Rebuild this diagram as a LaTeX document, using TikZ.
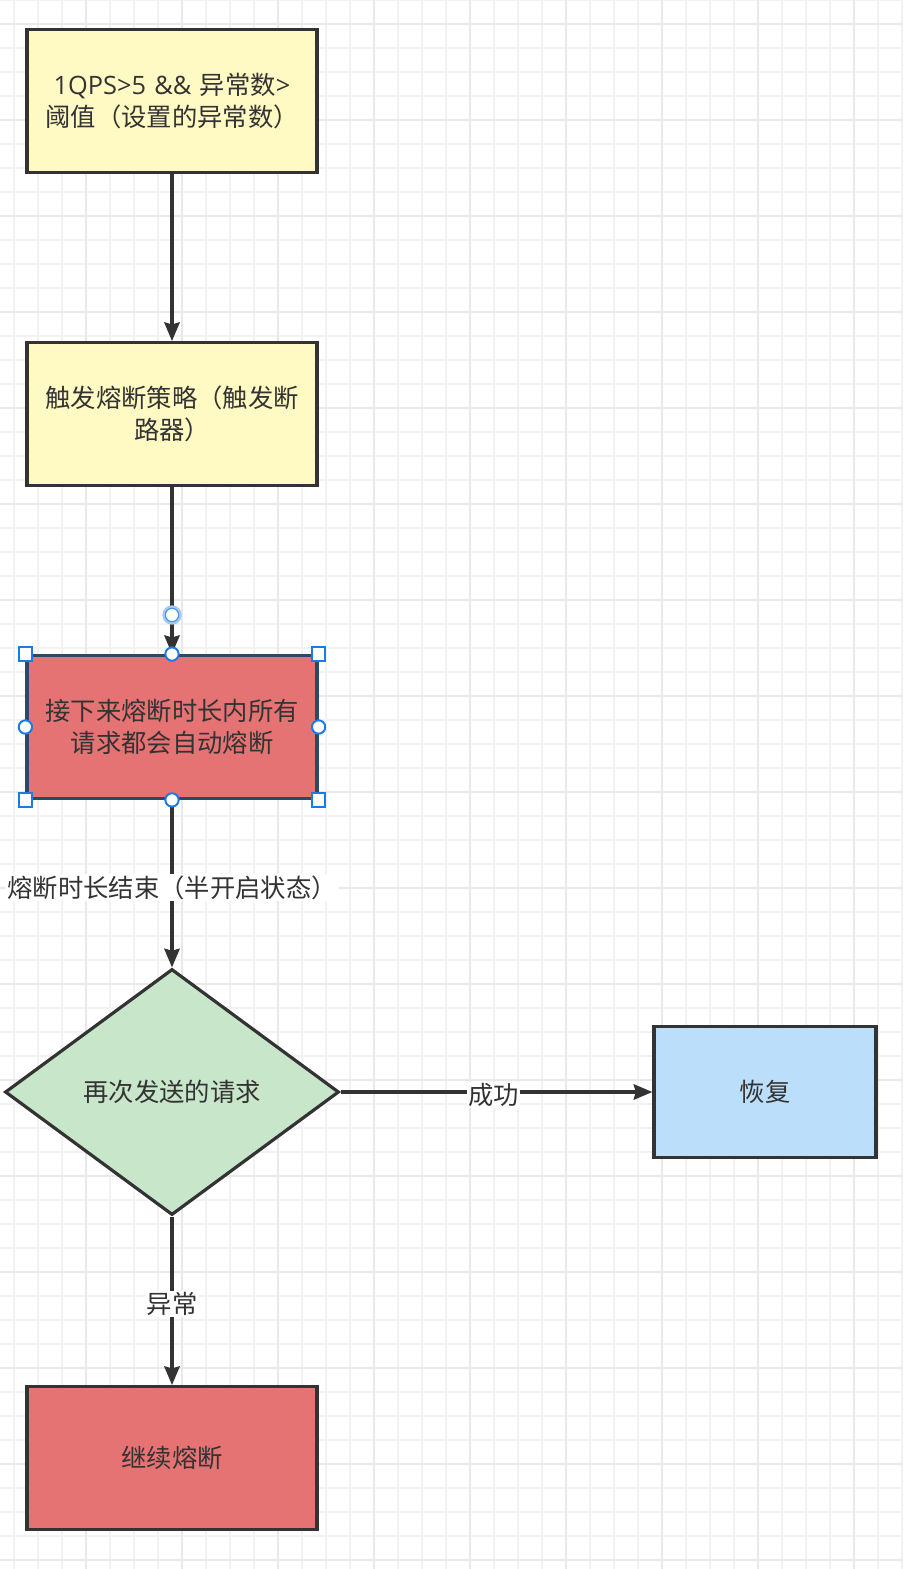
\documentclass[tikz,border=0pt]{standalone}
\usepackage{fontspec}
\setmainfont{Noto Sans CJK SC}
\newfontfamily\lat{Open Sans}
\usetikzlibrary{arrows.meta,shapes.geometric}
\definecolor{ink}{HTML}{333333}
\definecolor{yel}{HTML}{FFF9C4}
\definecolor{redf}{HTML}{E57373}
\definecolor{grnf}{HTML}{C8E6C9}
\definecolor{bluf}{HTML}{BBDEFB}
\definecolor{gridmin}{HTML}{F2F2F2}
\definecolor{gridmaj}{HTML}{E8E8E8}
\definecolor{sel}{HTML}{1A7BE6}
\tikzset{
  box/.style={draw=ink, line width=2.4pt, rectangle, minimum width=217.5pt, minimum height=107pt,
    text=ink, font=\fontsize{19pt}{24pt}\selectfont, align=center, text width=200pt, inner sep=0pt},
  dia/.style={draw=ink, line width=2.4pt, diamond, fill=grnf, minimum width=250.5pt, minimum height=184.5pt,
    aspect=1.358, inner sep=0pt, text=ink, font=\fontsize{19pt}{24pt}\selectfont},
  conn/.style={draw=ink, line width=2.4pt, -{Stealth[length=14pt,width=11.5pt,inset=1.5pt]}},
  lab/.style={fill=white, text=ink, font=\fontsize{19pt}{24pt}\selectfont, inner sep=1pt},
  handsq/.style={draw=sel, fill=white, line width=1.5pt, rectangle, minimum size=10pt, inner sep=0pt},
  handci/.style={draw=sel, fill=white, line width=1.5pt, circle, minimum size=10pt, inner sep=0pt},
}
\begin{document}
\begin{tikzpicture}[x=0.75pt,y=-0.75pt]
\useasboundingbox (0,0) rectangle (903,1569);
\fill[white] (0,0) rectangle (903,1569);
% grid
\foreach \i in {0,...,37} {
  \pgfmathsetmacro{\xx}{14+24*\i}
  \draw[gridmin, line width=1.5pt] (\xx,0) -- (\xx,1569);
}
\foreach \j in {0,...,65} {
  \pgfmathsetmacro{\yy}{24*\j}
  \draw[gridmin, line width=1.5pt] (0,\yy) -- (903,\yy);
}
\foreach \i in {0,...,9} {
  \pgfmathsetmacro{\xx}{86+96*\i}
  \draw[gridmaj, line width=1.5pt] (\xx,0) -- (\xx,1569);
}
\foreach \j in {0,...,16} {
  \pgfmathsetmacro{\yy}{24+96*\j}
  \draw[gridmaj, line width=1.5pt] (0,\yy) -- (903,\yy);
}
% nodes
\node[box, fill=yel, text width=215pt] (a) at (172,101) {{\lat 1QPS>5 \&\& }异常数{\lat >}\\阈值（设置的异常数）};
\node[box, fill=yel] (b) at (172,414) {触发熔断策略（触发断\\路器）};
\node[box, fill=redf, draw=ink!70!sel] (c) at (172,727) {接下来熔断时长内所有\\请求都会自动熔断};
\node[dia] (d) at (172,1092) {再次发送的请求};
\node[box, fill=bluf, minimum width=166.5pt, minimum height=98pt, text width=150pt] (e) at (765,1092) {恢复};
\node[box, fill=redf] (f) at (172,1458) {继续熔断};
% connectors
\draw[conn] (a) -- (b);
\draw[conn] (b) -- (c);
\draw[conn] (c) -- node[lab, xshift=0pt, yshift=-3pt] {熔断时长结束（半开启状态）} (d);
\draw[conn] (d) -- node[lab, pos=0.49, yshift=-2pt] {成功} (e);
\draw[conn] (d) -- node[lab, pos=0.52] {异常} (f);
% selection handles
\node[handsq] (h1) at (c.north west) {};
\node[handsq] (h2) at (c.north east) {};
\node[handsq] (h3) at (c.south west) {};
\node[handsq] (h4) at (c.south east) {};
\node[handci] (h5) at (c.north) {};
\node[handci] (h6) at (c.south) {};
\node[handci] (h7) at (c.west) {};
\node[handci] (h8) at (c.east) {};
\node[circle, draw=sel!40, line width=2.5pt, fill=white, minimum size=12pt, inner sep=0pt] (h9) at (172,615) {};
\node[circle, draw=sel!80, line width=0.8pt, minimum size=10pt, inner sep=0pt] (h10) at (172,615) {};
\end{tikzpicture}
\end{document}
